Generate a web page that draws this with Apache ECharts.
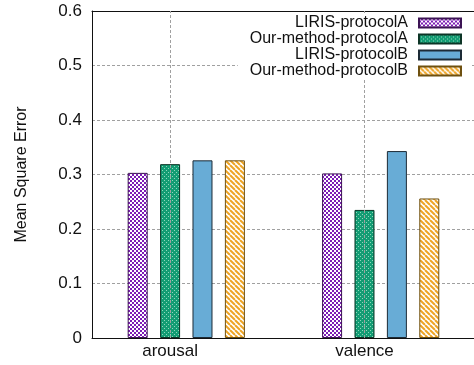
<!DOCTYPE html>
<html>
<head>
<meta charset="utf-8">
<script src="https://cdn.jsdelivr.net/npm/echarts@6/dist/echarts.min.js"></script>
<style>
  html, body { margin: 0; padding: 0; background: #fff; }
  #chart { width: 474px; height: 365px; }
</style>
</head>
<body>
<div id="chart"></div>
<script>
// categories and series
var categories = ['arousal', 'valence'];
var seriesNames = ['LIRIS-protocolA', 'Our-method-protocolA', 'LIRIS-protocolB', 'Our-method-protocolB'];
var lirisA = [0.303, 0.302];
var oursA = [0.319, 0.235];
var lirisB = [0.326, 0.343];
var oursB = [0.326, 0.256];
var yTicks = [0, 0.1, 0.2, 0.3, 0.4, 0.5, 0.6];

// position of each category on the x scale, and bar offset of each series in it
var catPos = [0, 6];
var barOffset = [-1, 0, 1, 2];

var font = 'Liberation Sans, Arial, Helvetica, sans-serif';

function makePattern(w, h, draw) {
  var c = document.createElement('canvas');
  c.width = w;
  c.height = h;
  draw(c.getContext('2d'));
  return { image: c, repeat: 'repeat' };
}

var purpleFill = makePattern(4, 4, function (g) {
  g.fillStyle = '#7c1cb4';
  g.fillRect(0, 0, 4, 4);
  g.fillStyle = '#ffffff';
  g.fillRect(0, 0, 2, 2);
  g.fillRect(2, 2, 2, 2);
});
var greenFill = makePattern(4, 4, function (g) {
  g.fillStyle = '#139c73';
  g.fillRect(0, 0, 4, 4);
  g.fillStyle = '#8fd8bc';
  g.fillRect(0, 0, 1, 1);
  g.fillRect(2, 2, 1, 1);
});
var orangeFill = makePattern(5, 5, function (g) {
  g.fillStyle = '#ffffff';
  g.fillRect(0, 0, 5, 5);
  g.strokeStyle = '#eea425';
  g.lineWidth = 2;
  for (var k = -5; k <= 5; k += 5) {
    g.beginPath();
    g.moveTo(k, 0);
    g.lineTo(k + 5, 5);
    g.stroke();
  }
});

var fills = [purpleFill, greenFill, '#68acd6', orangeFill];
var borders = ['#3c1454', '#0c3526', '#1d2b36', '#6e5010'];
var values = [lirisA, oursA, lirisB, oursB];

var dom = document.getElementById('chart');
var myChart = echarts.init(dom, null, { renderer: 'canvas' });

var series = values.map(function (vals, s) {
  return {
    name: seriesNames[s],
    type: 'bar',
    barWidth: 20,
    barGap: '-100%',
    itemStyle: { color: fills[s], borderColor: borders[s], borderWidth: 1 },
    data: vals.map(function (v, i) { return [catPos[i] + barOffset[s], v]; }),
    z: 3
  };
});

// vertical dashed grid lines at the category positions
series.push({
  type: 'line',
  data: [],
  silent: true,
  z: 1,
  markLine: {
    silent: true,
    symbol: 'none',
    label: { show: false },
    lineStyle: { color: '#a0a0a0', type: [3, 2], width: 1 },
    data: catPos.map(function (p) { return { xAxis: p }; })
  }
});

var option = {
  animation: false,
  textStyle: { fontFamily: font },
  grid: { left: 92, right: 0, top: 11, bottom: 27 },
  legend: {
    data: seriesNames,
    orient: 'vertical',
    right: 4,
    top: 14,
    align: 'right',
    icon: 'rect',
    itemWidth: 42,
    itemHeight: 9,
    itemGap: 0,
    padding: [1, 8, 0, 12],
    backgroundColor: '#ffffff',
    textStyle: { fontSize: 16, lineHeight: 16, color: '#111', fontFamily: font, padding: [0, 6, 0, 0] },
    z: 10
  },
  xAxis: [
    {
      type: 'value',
      min: -2.41,
      max: 9.38,
      axisLine: { show: true, onZero: false, lineStyle: { color: '#111', width: 1 } },
      axisTick: { show: false },
      splitLine: { show: false },
      axisLabel: {
        customValues: catPos,
        formatter: function (v) { return categories[catPos.indexOf(v)] || ''; },
        fontSize: 17,
        color: '#111',
        margin: 5
      }
    },
    {
      type: 'value',
      position: 'top',
      min: -2.41,
      max: 9.38,
      axisLine: { show: true, onZero: false, lineStyle: { color: '#111', width: 1 } },
      axisTick: { show: false },
      axisLabel: { show: false },
      splitLine: { show: false }
    }
  ],
  yAxis: {
    type: 'value',
    min: yTicks[0],
    max: yTicks[yTicks.length - 1],
    interval: 0.1,
    name: 'Mean Square Error',
    nameLocation: 'middle',
    nameGap: 62,
    nameTextStyle: { fontSize: 16, color: '#111', fontFamily: font },
    axisLine: { show: true, onZero: false, lineStyle: { color: '#111', width: 1 } },
    axisTick: { show: false },
    axisLabel: {
      fontSize: 17,
      color: '#111',
      margin: 10,
      formatter: function (v) { return String(Math.round(v * 10) / 10); }
    },
    splitLine: { show: true, lineStyle: { color: '#a0a0a0', type: [3, 2], width: 1 } }
  },
  series: series
};

myChart.setOption(option);

window.addEventListener('resize', myChart.resize);
</script>
</body>
</html>
